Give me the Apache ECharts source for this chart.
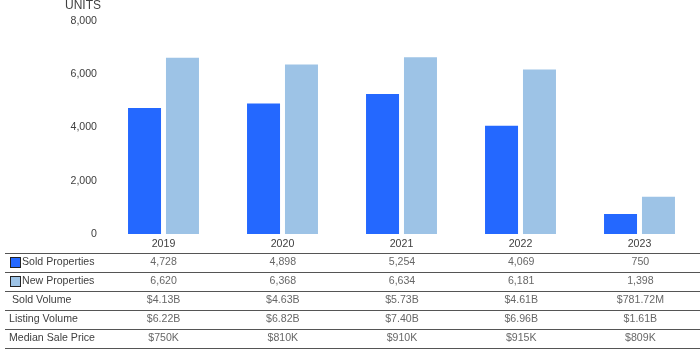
<!DOCTYPE html>
<html>
<head>
<meta charset="utf-8">
<script src="https://cdn.jsdelivr.net/npm/echarts@6/dist/echarts.min.js"></script>
<style>
  html, body { margin: 0; padding: 0; background: #fff; }
  #chart { width: 700px; height: 350px; }
</style>
</head>
<body>
<div id="chart"></div>
<script>
// Yearly property activity
const years = ['2019', '2020', '2021', '2022', '2023'];
const soldProperties = [4728, 4898, 5254, 4069, 750];
const newProperties = [6620, 6368, 6634, 6181, 1398];
const soldVolume = ['$4.13B', '$4.63B', '$5.73B', '$4.61B', '$781.72M'];
const listingVolume = ['$6.22B', '$6.82B', '$7.40B', '$6.96B', '$1.61B'];
const medianSalePrice = ['$750K', '$810K', '$910K', '$915K', '$809K'];
const rowNames = ['Sold Properties', 'New Properties', ' Sold Volume', 'Listing Volume', 'Median Sale Price'];
const yTicks = { min: 0, max: 8000, interval: 2000 };

const SOLD_COLOR = '#2468ff';
const NEW_COLOR = '#9dc3e6';
const TEXT = '#404040';
const FONT = 'Liberation Sans, Arial, sans-serif';
const FS = 10.6;
const fmt = v => Number(v).toLocaleString('en-US');

// table rows shown below the bars
const tableRows = [
  soldProperties.map(fmt),
  newProperties.map(fmt),
  soldVolume,
  listingVolume,
  medianSalePrice
];
const cellData = [];
tableRows.forEach((row, r) => row.forEach((txt, c) => cellData.push({ value: [c, r], text: txt })));

const swatch = color => ({ width: 9, height: 9, backgroundColor: color, borderColor: '#222', borderWidth: 1, padding: 0 });

const chart = echarts.init(document.getElementById('chart'), null, { renderer: 'canvas' });
chart.setOption({
  animation: false,
  textStyle: { fontFamily: FONT },
  grid: [
    { left: 104, right: 1, top: 20, height: 214 },
    { left: 5, width: 99, top: 253, height: 95 },
    { left: 104, right: 0, top: 253, height: 95 }
  ],
  xAxis: [
    {
      gridIndex: 0, type: 'category', data: years,
      axisLine: { show: false }, axisTick: { show: false },
      axisLabel: { color: TEXT, fontSize: FS, margin: 5 }
    },
    { gridIndex: 1, type: 'value', show: false, min: 0, max: 1 },
    { gridIndex: 2, type: 'category', data: years, show: false }
  ],
  yAxis: [
    {
      gridIndex: 0, type: 'value', min: yTicks.min, max: yTicks.max, interval: yTicks.interval,
      name: 'UNITS', nameLocation: 'end', nameGap: 9,
      nameTextStyle: { color: TEXT, fontSize: 12, align: 'right', padding: [0, 3, 0, 0] },
      axisLine: { show: false }, axisTick: { show: false }, splitLine: { show: false },
      axisLabel: { color: TEXT, fontSize: FS, margin: 7, formatter: fmt }
    },
    {
      gridIndex: 1, type: 'category', data: rowNames, inverse: true,
      axisLine: { show: false }, axisTick: { show: false },
      splitLine: { show: true, lineStyle: { color: '#555', width: 1 } },
      axisLabel: {
        inside: true, margin: 4, color: TEXT, fontSize: FS,
        formatter: (v, i) => i === 0 ? '{p|}{a|}{s|}' + v : i === 1 ? '{p|}{b|}{s|}' + v : v,
        rich: {
          p: { width: 2 },
          s: { width: 2 },
          a: swatch(SOLD_COLOR),
          b: swatch(NEW_COLOR)
        }
      }
    },
    {
      gridIndex: 2, type: 'category', data: rowNames, inverse: true,
      axisLine: { show: false }, axisTick: { show: false }, axisLabel: { show: false },
      splitLine: { show: true, lineStyle: { color: '#555', width: 1 } }
    }
  ],
  series: [
    {
      name: 'Sold Properties', type: 'bar', xAxisIndex: 0, yAxisIndex: 0,
      data: soldProperties, barWidth: 33, barGap: '15%',
      itemStyle: { color: SOLD_COLOR }
    },
    {
      name: 'New Properties', type: 'bar', xAxisIndex: 0, yAxisIndex: 0,
      data: newProperties, barWidth: 33, barGap: '15%',
      itemStyle: { color: NEW_COLOR }
    },
    {
      type: 'scatter', xAxisIndex: 2, yAxisIndex: 2, symbolSize: 0, silent: true,
      data: cellData,
      label: {
        show: true, position: 'inside', color: TEXT, fontSize: FS,
        formatter: p => p.data.text
      }
    }
  ]
});
</script>
</body>
</html>
